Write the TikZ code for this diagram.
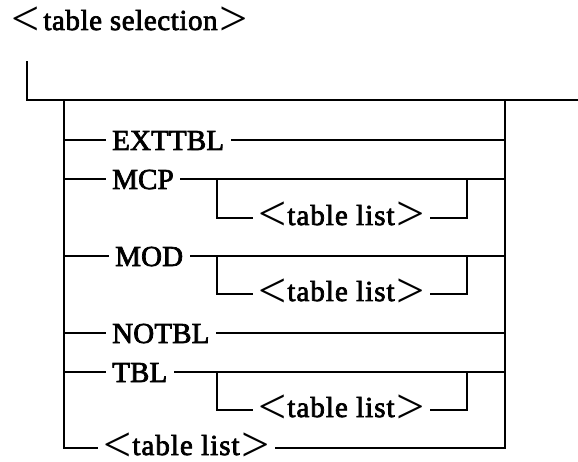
\documentclass[tikz,border=0pt]{standalone}
\usepackage{fontspec}
\setmainfont{Liberation Serif}
\newfontfamily\kwfont[LetterSpace=0.5,FakeBold=2.5]{Liberation Serif}
\newfontfamily\ntfont[LetterSpace=3.5,FakeBold=2.5]{Liberation Serif}
\newfontfamily\brfont{Liberation Serif}
% angle-bracketed nonterminal
\newcommand\brk[1]{{\brfont\fontsize{50}{50}\selectfont\raisebox{-6pt}{#1}}}
\newcommand\nterm[1]{\brk{<}\hspace{1pt}{\ntfont #1}\hspace{2pt}\brk{>}}
\tikzset{
  rail/.style={line width=1.3pt, line cap=rect},
  kw/.style={font=\fontsize{29}{29}\selectfont\kwfont, inner xsep=7pt, inner ysep=0pt, anchor=base west},
  nt/.style={font=\fontsize{29}{29}\selectfont, inner xsep=6pt, inner ysep=0pt, anchor=base west},
}
\begin{document}
\begin{tikzpicture}[x=1pt,y=-1pt]
\useasboundingbox (0,0) rectangle (578,462);

% heading
\node[nt, inner xsep=0pt] (title) at (11,30) {\brk{<}\hspace{4pt}{\ntfont\addfontfeature{LetterSpace=2}table selection}\hspace{2pt}\brk{>}};

% entry line and the two rails
\coordinate (top) at (27,62);
\coordinate (tc) at (27,100);
\coordinate (tend) at (578,100);
\coordinate (lt) at (64,100);
\coordinate (rt) at (505,100);
\draw[rail] (top) -- (tc) -- (tend);

% row anchors on the left rail
\coordinate (r1) at (64,140);
\coordinate (r2) at (64,179);
\coordinate (s2) at (217,218);
\coordinate (r3) at (64,256);
\coordinate (s3) at (217,294);
\coordinate (r4) at (64,333);
\coordinate (r5) at (64,372);
\coordinate (s5) at (217,410);
\coordinate (r6) at (64,448);
\coordinate (rb) at (505,448);

% labels
\node[kw] (ext) at (105,150) {EXTTBL};
\node[kw] (mcp) at (105,189) {MCP};
\node[nt] (tl2) at (252,225) {\nterm{table list}};
\node[kw] (mod) at (108,266) {MOD};
\node[nt] (tl3) at (252,301) {\nterm{table list}};
\node[kw] (notbl) at (105,343) {NOTBL};
\node[kw] (tbl) at (105,382) {TBL};
\node[nt] (tl5) at (252,417) {\nterm{table list}};
\node[nt] (tl6) at (97,455) {\nterm{table list}};

% rails
\draw[rail] (lt) -- (r6) -- (r6 -| tl6.west);
\draw[rail] (rt) -- (rb) -- (tl6.east |- rb);

% plain keyword branches
\foreach \n/\r in {ext/r1, mcp/r2, mod/r3, notbl/r4, tbl/r5}{
  \draw[rail] (\r) -- (\r -| \n.west);
  \draw[rail] (\n.east |- \r) -- (\r -| rt);
}

% optional table lists
\foreach \n/\r/\s in {tl2/r2/s2, tl3/r3/s3, tl5/r5/s5}{
  \draw[rail] (\r -| \s) -- (\s) -- (\s -| \n.west);
  \draw[rail] (\n.east |- \s) -- (467,0 |- \s) -- (467,0 |- \r);
}
\end{tikzpicture}
\end{document}
